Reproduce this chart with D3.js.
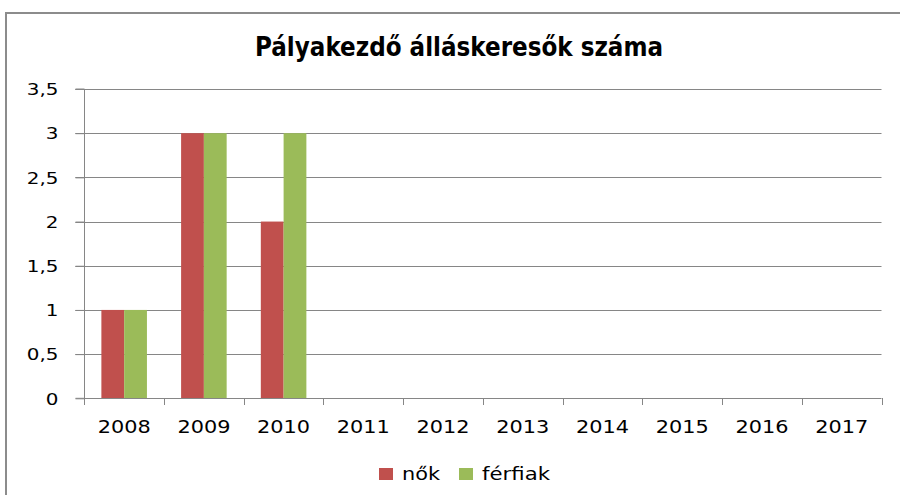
<!DOCTYPE html>
<html>
<head>
<meta charset="utf-8">
<script src="https://cdn.jsdelivr.net/npm/d3@7"></script>
<style>
  body { margin: 0; background: #fff; }
  text { font-family: "DejaVu Sans", Verdana, sans-serif; fill: #000; }
</style>
</head>
<body>
<script>
// chart data
var years = ["2008", "2009", "2010", "2011", "2012", "2013", "2014", "2015", "2016", "2017"];
var seriesNames = ["nők", "férfiak"];
var nokValues = [1, 3, 2, 0, 0, 0, 0, 0, 0, 0];
var ferfiakValues = [1, 3, 3, 0, 0, 0, 0, 0, 0, 0];
var yTicks = [0, 0.5, 1, 1.5, 2, 2.5, 3, 3.5];
var titleText = "Pályakezdő álláskeresők száma";

var width = 900;
var height = 495;
var plotLeft = 84.3;
var plotRight = 881.5;
var plotTop = 89;
var plotBottom = 398.3;
var colors = ["#c0504d", "#9bbb59"];
var gridColor = "#868686";

let svg = d3.select("body")
            .append("svg")
            .attr("width", width)
            .attr("height", height);

// outer frame (only top and left visible)
svg.append("path")
    .attr("d", `M6,${height} L6,13 L${width},13`)
    .attr("fill", "none")
    .attr("stroke", "#8c8c8c")
    .attr("stroke-width", 2);

// title
svg.append("text")
    .attr("x", 459)
    .attr("y", 56)
    .attr("text-anchor", "middle")
    .attr("font-size", 27)
    .attr("font-weight", "bold")
    .attr("textLength", 408)
    .attr("lengthAdjust", "spacingAndGlyphs")
    .text(titleText);

let xScale = d3.scaleBand()
      .domain(years)
      .range([plotLeft, plotRight])
      .padding(0);

let innerScale = d3.scaleBand()
      .domain(seriesNames)
      .range([0, xScale.bandwidth()])
      .paddingInner(0)
      .paddingOuter(0.75);

let yScale = d3.scaleLinear()
      .domain([0, 3.5])
      .range([plotBottom, plotTop]);

// gridlines
svg.append("g")
    .selectAll("line")
    .data(yTicks.filter(d => d > 0))
    .join("line")
      .attr("x1", plotLeft - 9)
      .attr("x2", plotRight)
      .attr("y1", d => Math.round(yScale(d)) + 0.5)
      .attr("y2", d => Math.round(yScale(d)) + 0.5)
      .attr("stroke", gridColor)
      .attr("stroke-width", 1);

// bars
var rows = years.map(function(y, i){
  return {year: y, values: [
    {name: seriesNames[0], value: nokValues[i]},
    {name: seriesNames[1], value: ferfiakValues[i]}
  ]};
});

svg.append("g")
  .selectAll("g")
  .data(rows)
  .join("g")
    .attr("transform", d => `translate(${xScale(d.year)},0)`)
  .selectAll("rect")
  .data(d => d.values)
  .join("rect")
    .attr("x", d => innerScale(d.name))
    .attr("width", innerScale.bandwidth())
    .attr("y", d => yScale(d.value))
    .attr("height", d => plotBottom - yScale(d.value))
    .attr("fill", (d, i) => colors[i]);

// y axis
let yAxis = d3.axisLeft(yScale)
    .tickValues(yTicks)
    .tickSize(9)
    .tickPadding(17)
    .tickFormat(d => String(d).replace(".", ","));

let yg = svg.append("g")
    .attr("transform", `translate(${Math.round(plotLeft) + 0.5},0)`)
    .call(yAxis);
yg.select(".domain").attr("stroke", gridColor).attr("d", `M-9,${plotTop}H0V${plotBottom}H-9`);
yg.selectAll(".tick line").attr("stroke", gridColor);
yg.selectAll(".tick text")
    .attr("font-size", 15)
    .attr("font-family", "DejaVu Sans")
    .attr("dy", "0.38em")
    .attr("transform", function(){
      // stretch horizontally around the right edge
      var x = +d3.select(this).attr("x");
      return `translate(${x},0) scale(1.33,1) translate(${-x},0)`;
    });

// x axis
let xAxis = d3.axisBottom(xScale)
    .tickSize(0)
    .tickPadding(22)
    .tickSizeOuter(0);

let xg = svg.append("g")
    .attr("transform", `translate(0,${Math.round(plotBottom) + 0.5})`)
    .call(xAxis);
xg.select(".domain").attr("stroke", gridColor).attr("d", `M${plotLeft},0H${plotRight}`);
xg.selectAll(".tick text")
    .attr("font-size", 18)
    .attr("font-family", "DejaVu Sans")
    .attr("dy", "0.71em")
    .attr("textLength", 53)
    .attr("lengthAdjust", "spacingAndGlyphs");

// category boundary ticks
svg.append("g")
  .selectAll("line")
  .data(years.concat(["end"]))
  .join("line")
    .attr("x1", (d, i) => Math.round(plotLeft + i * xScale.step()) + 0.5)
    .attr("x2", (d, i) => Math.round(plotLeft + i * xScale.step()) + 0.5)
    .attr("y1", Math.round(plotBottom))
    .attr("y2", Math.round(plotBottom) + 7)
    .attr("stroke", gridColor);

// legend
var legendItems = [
  {name: seriesNames[0], color: colors[0], x: 379, textLen: 38},
  {name: seriesNames[1], color: colors[1], x: 459, textLen: 68}
];
let legend = svg.append("g")
  .selectAll("g")
  .data(legendItems)
  .join("g")
    .attr("transform", d => `translate(${d.x},468)`);
legend.append("rect")
    .attr("width", 14)
    .attr("height", 12)
    .attr("fill", d => d.color);
legend.append("text")
    .attr("x", 23)
    .attr("y", 11.5)
    .attr("font-size", 18)
    .attr("textLength", d => d.textLen)
    .attr("lengthAdjust", "spacingAndGlyphs")
    .text(d => d.name);
</script>
</body>
</html>
